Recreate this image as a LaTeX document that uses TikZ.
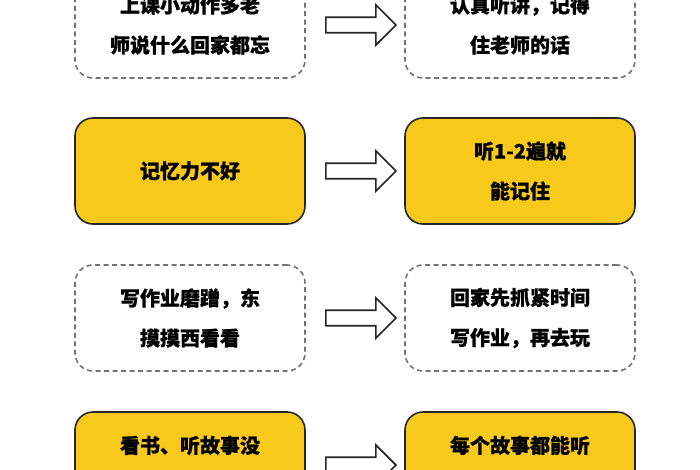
\documentclass[tikz,border=0pt]{standalone}
\usepackage{fontspec}
\setmainfont{Noto Sans CJK SC}[FakeBold=0.7]
\usetikzlibrary{shapes.arrows, positioning}
\definecolor{gold}{HTML}{F7C91A}

\begin{document}
\begin{tikzpicture}
  [
  x=1pt, y=-1pt,
  % boxes
  dashbox/.style = {rectangle, rounded corners=18pt,
    draw=black!55, dash pattern=on 5pt off 3.5pt, line width=1.6pt, fill=white,
    minimum width=230pt, minimum height=106pt,
    align=center, font=\fontsize{20}{40}\selectfont\bfseries},
  goldbox/.style = {dashbox, solid, draw=black!85, fill=gold},
  % arrow
  hollow/.style = {single arrow, draw=black!85, line width=1.6pt, fill=white,
    minimum width=40pt, minimum height=70pt,
    single arrow head extend=6pt, inner sep=3pt},
  % top line only
  topline/.style = {font=\fontsize{20}{40}\selectfont\bfseries, anchor=base},
  ]
  \useasboundingbox (0,0) rectangle (700,470);

  % nodes
  \node [dashbox] (habit) at (190,25) {上课小动作多老\\师说什么回家都忘};
  \node [dashbox] (listen) at (520,25) {认真听讲，记得\\住老师的话};
  \node [goldbox] (memory) at (190,171) {记忆力不好};
  \node [goldbox] (twice) at (520,171) {听1-2遍就\\能记住};
  \node [dashbox] (slow) at (190,318) {写作业磨蹭，东\\摸摸西看看};
  \node [dashbox] (first) at (520,318) {回家先抓紧时间\\写作业，再去玩};
  \node [goldbox] (story) at (190,465) {};
  \node [goldbox] (every) at (520,465) {};
  \node [topline] (storytxt) at (190,453) {看书、听故事没};
  \node [topline] (everytxt) at (520,453) {每个故事都能听};

  % arrows
  \foreach \a in {25,171,318,465}
    \node [hollow] at (357,\a) {};

\end{tikzpicture}
\end{document}
